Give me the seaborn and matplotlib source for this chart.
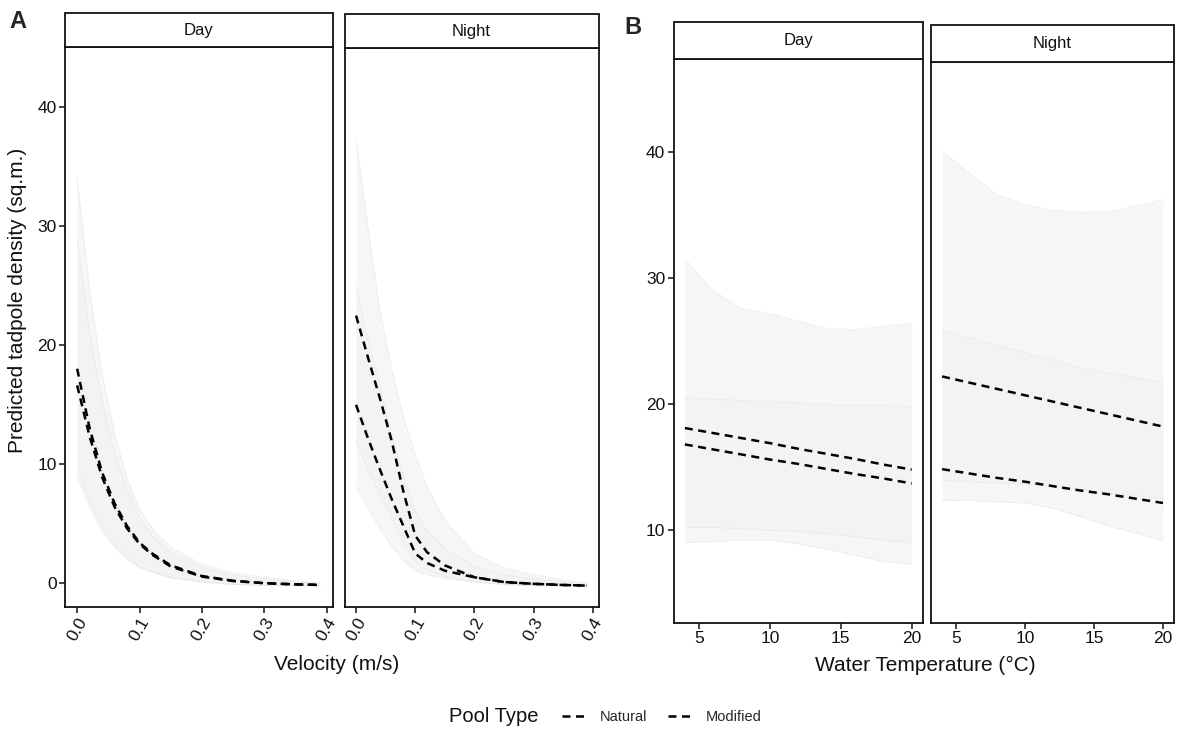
import numpy as np
import pandas as pd
import matplotlib
matplotlib.use("Agg")
import matplotlib.pyplot as plt
import seaborn as sns
from matplotlib.patches import Rectangle
from matplotlib.lines import Line2D

sns.set_theme(style="white")
plt.rcParams['font.family'] = ['Liberation Sans', 'DejaVu Sans']

# ---------------- data ----------------
pool_types = ["Natural", "Modified"]
periods = ["Day", "Night"]

velocity = [0.0, 0.02, 0.04, 0.06, 0.08, 0.10, 0.12, 0.15, 0.20, 0.25, 0.30, 0.35, 0.39]
vel_day_natural = [18.0, 13.0, 9.3, 6.7, 4.8, 3.4, 2.5, 1.5, 0.6, 0.2, 0.0, -0.1, -0.15]
vel_day_modified = [16.6, 12.3, 8.9, 6.4, 4.6, 3.3, 2.4, 1.4, 0.55, 0.18, 0.0, -0.1, -0.15]
vel_night_natural = [22.5, 19.0, 15.6, 12.0, 7.7, 4.0, 2.6, 1.5, 0.5, 0.1, -0.05, -0.15, -0.2]
vel_night_modified = [15.0, 12.2, 9.6, 7.1, 4.8, 2.5, 1.7, 1.05, 0.5, 0.1, -0.05, -0.15, -0.2]

vel_day_natural_lo = [9.8, 6.8, 4.7, 3.2, 2.2, 1.4, 1.0, 0.5, 0.1, -0.1, -0.2, -0.2, -0.2]
vel_day_natural_hi = [34.0, 24.5, 17.5, 12.5, 8.8, 6.2, 4.6, 3.0, 1.6, 0.9, 0.5, 0.2, 0.0]
vel_day_modified_lo = [9.0, 6.3, 4.4, 3.0, 2.0, 1.3, 0.9, 0.45, 0.1, -0.1, -0.2, -0.2, -0.2]
vel_day_modified_hi = [28.8, 21.0, 15.2, 10.9, 7.8, 5.5, 4.0, 2.6, 1.3, 0.7, 0.35, 0.1, 0.0]
vel_night_natural_lo = [12.0, 9.5, 7.5, 5.5, 3.5, 1.8, 1.1, 0.6, 0.15, -0.1, -0.2, -0.2, -0.2]
vel_night_natural_hi = [37.3, 30.0, 23.0, 18.0, 14.0, 10.8, 8.1, 5.3, 2.5, 1.3, 0.7, 0.3, 0.0]
vel_night_modified_lo = [8.1, 6.3, 4.6, 3.1, 1.9, 1.0, 0.7, 0.4, 0.1, -0.1, -0.2, -0.2, -0.2]
vel_night_modified_hi = [25.0, 20.5, 16.5, 12.5, 9.0, 6.0, 4.4, 2.9, 1.4, 0.7, 0.35, 0.1, 0.0]

temperature = [4, 6, 8, 10, 12, 14, 16, 18, 20]
tmp_day_natural = [18.1, 17.7, 17.3, 16.9, 16.45, 16.05, 15.65, 15.2, 14.8]
tmp_day_modified = [16.8, 16.4, 16.0, 15.6, 15.25, 14.85, 14.45, 14.1, 13.7]
tmp_night_natural = [22.3, 21.8, 21.3, 20.8, 20.3, 19.8, 19.3, 18.8, 18.3]
tmp_night_modified = [14.9, 14.55, 14.2, 13.9, 13.55, 13.2, 12.9, 12.55, 12.2]

tmp_day_natural_lo = [9.0, 9.1, 9.2, 9.2, 8.9, 8.5, 8.0, 7.5, 7.3]
tmp_day_natural_hi = [31.5, 29.0, 27.6, 27.2, 26.6, 26.0, 25.9, 26.2, 26.4]
tmp_day_modified_lo = [10.2, 10.2, 10.1, 10.0, 9.9, 9.7, 9.5, 9.2, 9.0]
tmp_day_modified_hi = [20.5, 20.4, 20.3, 20.2, 20.1, 20.0, 19.9, 19.9, 19.8]
tmp_night_natural_lo = [14.0, 13.9, 13.8, 13.7, 13.5, 13.3, 13.0, 12.8, 12.5]
tmp_night_natural_hi = [40.3, 38.5, 36.8, 36.0, 35.6, 35.4, 35.5, 35.9, 36.4]
tmp_night_modified_lo = [12.4, 12.4, 12.3, 12.2, 11.8, 11.1, 10.4, 9.8, 9.2]
tmp_night_modified_hi = [26.0, 25.4, 24.8, 24.2, 23.6, 23.0, 22.6, 22.2, 21.8]

vel_ticks = [0.0, 0.1, 0.2, 0.3, 0.4]
vel_ticklabels = ["0.0", "0.1", "0.2", "0.3", "0.4"]
tmp_ticks = [5, 10, 15, 20]
dens_ticks_A = [0, 10, 20, 30, 40]
dens_ticks_B = [10, 20, 30, 40]

# ---------------- tables ----------------
def build(xv, nat, mod, nat_lo, nat_hi, mod_lo, mod_hi):
    rows = []
    for i, x in enumerate(xv):
        rows.append(dict(x=x, y=nat[i], lo=nat_lo[i], hi=nat_hi[i], pool="Natural"))
        rows.append(dict(x=x, y=mod[i], lo=mod_lo[i], hi=mod_hi[i], pool="Modified"))
    return pd.DataFrame(rows)

df_vel = {
    "Day": build(velocity, vel_day_natural, vel_day_modified, vel_day_natural_lo,
                 vel_day_natural_hi, vel_day_modified_lo, vel_day_modified_hi),
    "Night": build(velocity, vel_night_natural, vel_night_modified, vel_night_natural_lo,
                   vel_night_natural_hi, vel_night_modified_lo, vel_night_modified_hi),
}
df_tmp = {
    "Day": build(temperature, tmp_day_natural, tmp_day_modified, tmp_day_natural_lo,
                 tmp_day_natural_hi, tmp_day_modified_lo, tmp_day_modified_hi),
    "Night": build(temperature, tmp_night_natural, tmp_night_modified, tmp_night_natural_lo,
                   tmp_night_natural_hi, tmp_night_modified_lo, tmp_night_modified_hi),
}

# ---------------- figure ----------------
W, H = 1178, 737
fig = plt.figure(figsize=(W / 100, H / 100), dpi=100)
fig.patch.set_facecolor("white")

def add_ax(l, r, t, b):
    return fig.add_axes([l / W, 1 - b / H, (r - l) / W, (b - t) / H])

DASH = (3.2, 2.2)

def draw(ax, df, title, strip_px, height_px):
    for pool in pool_types:
        sub = df[df.pool == pool]
        ax.fill_between(sub.x, sub.lo, sub.hi, color="#f1f1f1", alpha=0.6, lw=0, zorder=1)
        ax.plot(sub.x, sub.lo, color="#dedede", lw=0.7, ls=(0, (1, 1.5)), zorder=1.5)
        ax.plot(sub.x, sub.hi, color="#dedede", lw=0.7, ls=(0, (1, 1.5)), zorder=1.5)
    sns.lineplot(data=df, x="x", y="y", hue="pool", style="pool",
                 palette={"Natural": "black", "Modified": "black"},
                 dashes={"Natural": DASH, "Modified": DASH},
                 linewidth=1.8, legend=False, ax=ax, zorder=3)
    ax.set_xlabel("")
    ax.set_ylabel("")
    for s in ax.spines.values():
        s.set_color("#111111")
        s.set_linewidth(1.3)
        s.set_visible(True)
    h = strip_px / height_px
    ax.add_patch(Rectangle((0, 1), 1, h, transform=ax.transAxes, clip_on=False,
                           fc="white", ec="#111111", lw=1.3, zorder=5))
    ax.text(0.5, 1 + h / 2, title, transform=ax.transAxes, ha="center", va="center",
            fontsize=12, color="#111111", zorder=6)
    ax.tick_params(axis="both", which="both", direction="out", length=4, width=1.1,
                   color="#111111", labelcolor="#111111", labelsize=12.5,
                   bottom=True, left=True, pad=2)

# Panel A
axA = [add_ax(65, 332.5, 47, 607), add_ax(344.5, 598.5, 48, 607)]
for ax, per in zip(axA, periods):
    draw(ax, df_vel[per], per, 34, 560)
    ax.set_xlim(-0.0195, 0.4095)
    ax.set_ylim(-2.0, 45.0)
    ax.set_xticks(vel_ticks)
    ax.set_xticklabels(vel_ticklabels, rotation=60, ha="center", va="top")
    ax.set_yticks(dens_ticks_A)
axA[1].tick_params(left=False, labelleft=False)

# Panel B
axB = [add_ax(673.5, 923, 59, 623), add_ax(931, 1174, 62, 623)]
for ax, per in zip(axB, periods):
    draw(ax, df_tmp[per], per, 37, 564)
    ax.set_xlim(3.2, 20.8)
    ax.set_ylim(2.62, 47.4)
    ax.set_xticks(tmp_ticks)
    ax.set_xticklabels([str(t) for t in tmp_ticks])
    ax.set_yticks(dens_ticks_B)
axB[1].tick_params(left=False, labelleft=False)

# labels
fig.text(18 / W, 1 - 22 / H, "A", fontsize=17, fontweight="bold", ha="center", va="center")
fig.text(633 / W, 1 - 28 / H, "B", fontsize=17, fontweight="bold", ha="center", va="center")
fig.text(18 / W, 1 - 300 / H, "Predicted tadpole density (sq.m.)", rotation=90,
         fontsize=15, ha="center", va="center", color="#111111")
fig.text(337 / W, 1 - 665 / H, "Velocity (m/s)", fontsize=15, ha="center", va="center",
         color="#111111")
fig.text(925 / W, 1 - 665 / H, "Water Temperature (\u00b0C)", fontsize=15, ha="center",
         va="center", color="#111111")

# legend
fig.text(494 / W, 1 - 717 / H, "Pool Type", fontsize=14.5, ha="center", va="center",
         color="#111111")
handles = [Line2D([0], [0], color="black", lw=1.8, ls=(0, DASH)) for _ in pool_types]
leg = fig.legend(handles, pool_types, loc="center", bbox_to_anchor=(662 / W, 1 - 717 / H),
                 ncol=2, frameon=False, fontsize=10.5, handlelength=1.7,
                 handletextpad=0.9, columnspacing=1.4)

fig.savefig("out.png", dpi=100, facecolor="white")
